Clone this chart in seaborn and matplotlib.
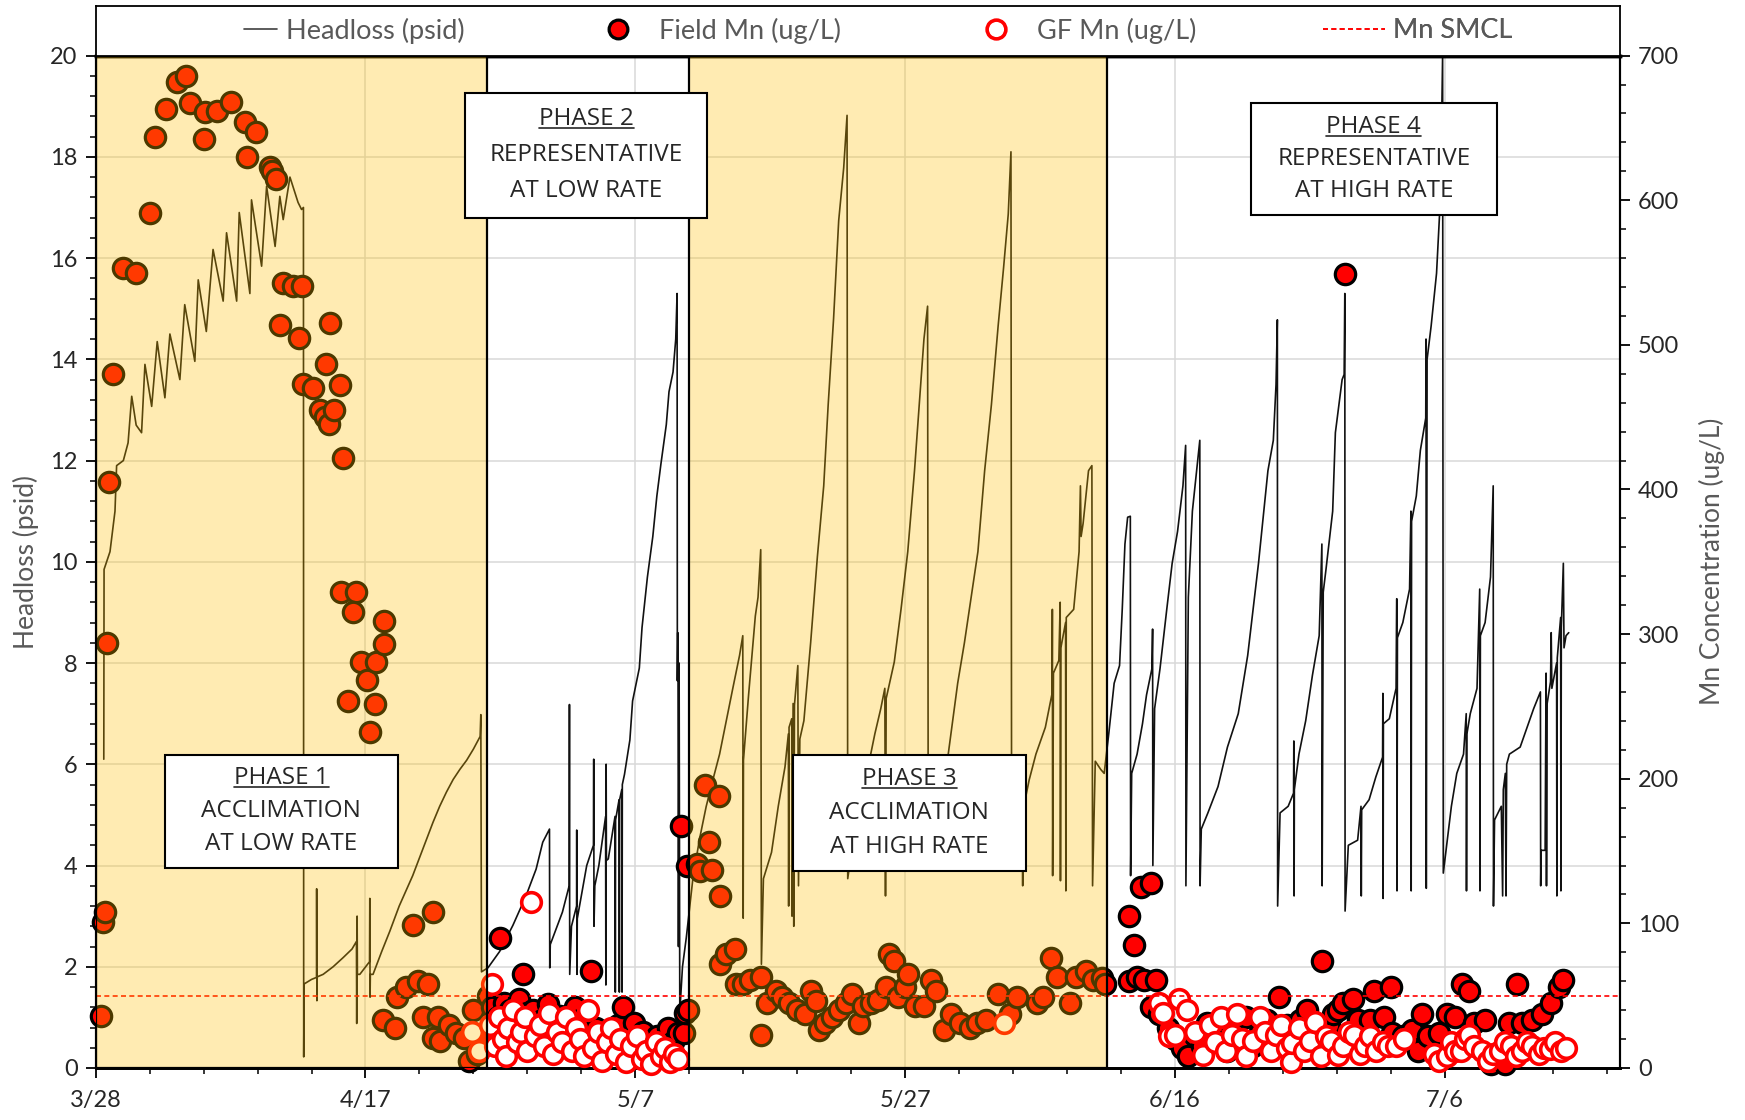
import numpy as np
import pandas as pd
import matplotlib
matplotlib.use("Agg")
import matplotlib.pyplot as plt
import seaborn as sns
from matplotlib.lines import Line2D
from matplotlib.patches import Rectangle
from matplotlib.ticker import MultipleLocator

# ---------------- data ----------------
# x = days since 3/28
tick_days = [0, 20, 40, 60, 80, 100]
tick_labels = ["3/28", "4/17", "5/7", "5/27", "6/16", "7/6"]
x_max = 113

phase_bounds = [0, 29, 44, 75, 113]
shaded_phases = [0, 2]
phase_titles = ["PHASE 1", "PHASE 2", "PHASE 3", "PHASE 4"]
phase_line2 = ["ACCLIMATION", "REPRESENTATIVE", "ACCLIMATION", "REPRESENTATIVE"]
phase_line3 = ["AT LOW RATE", "AT LOW RATE", "AT HIGH RATE", "AT HIGH RATE"]

mn_smcl = 50

headloss_day = [
    0.6, 0.62, 1.06, 1.43, 1.55, 2.05, 2.4, 2.67, 3.0, 3.4, 3.65, 4.15, 4.56, 5.13, 5.5, 6.24, 6.6, 7.35,
    7.6, 8.2, 8.7, 9.45, 9.7, 10.45, 10.64, 11.43, 11.55, 12.3, 12.67, 13.3, 13.65, 13.9, 14.4, 15.0, 15.26,
    15.4, 15.42, 15.45, 16.0, 16.37, 16.38, 16.4, 16.42, 16.86, 17.6, 18.34, 19.0, 19.33, 19.35, 19.38, 19.4,
    19.58, 20.3, 20.32, 20.34, 20.36, 20.56, 21.2, 21.8, 22.5, 23.0, 23.5, 24.0, 24.5, 25.0, 25.5, 26.0, 26.5,
    27.0, 27.5, 28.0, 28.5, 28.55, 28.6,
    29.08, 29.94, 30.93, 31.9, 32.65, 33.14, 33.64, 33.66, 33.7, 34.6, 35.1, 35.12, 35.14, 35.27, 35.65,
    35.66, 35.68, 35.7, 36.4, 36.9, 36.92, 36.94, 37.0, 37.3, 37.8, 37.82, 37.84, 37.86, 38.0, 38.5, 38.52,
    38.54, 38.8, 38.82, 38.84, 39.0, 39.02, 39.04, 39.2, 39.6, 39.8, 40.3, 40.5, 40.9, 41.3, 41.6, 41.9, 42.3,
    42.5, 42.8, 43.0, 43.1, 43.12, 43.15, 43.17, 43.2, 43.25, 43.3, 43.5,
    43.78, 44.27, 44.76, 45.26, 45.75, 46.25, 46.74, 47.23, 47.73, 47.97, 48.0, 48.02, 48.4, 48.9, 49.1, 49.3,
    49.35, 49.5, 50.1, 50.6, 51.1, 51.35, 51.37, 51.4, 51.6, 51.62, 51.7, 51.75, 51.8, 52.05, 52.1, 52.2, 52.5,
    53.0, 53.5, 53.97, 54.3, 54.7, 55.08, 55.45, 55.7, 55.75, 56.2, 56.8, 57.3, 57.76, 58.2, 58.5, 58.55, 58.6,
    59.2, 59.7, 60.2, 60.7, 61.05, 61.4, 61.67, 61.72, 62.3, 62.9, 63.4, 63.9, 64.4, 64.9, 65.4, 65.9, 66.4,
    66.9, 67.3, 67.65, 67.85, 67.9, 68.3, 68.7, 68.72, 68.75, 69.2, 69.7, 70.4, 70.9, 70.92, 70.94, 71.0, 71.4,
    71.5, 71.52, 71.55, 71.9, 71.92, 71.95, 72.5, 72.9, 73.0, 73.05, 73.2, 73.6, 73.85, 73.9, 74.1, 74.5,
    74.76, 75.1, 75.5, 75.9, 76.1, 76.3, 76.5, 76.7, 76.72, 76.8, 77.2, 77.6, 77.9, 78.3, 78.35, 78.37, 78.5,
    78.9, 79.4, 79.8, 80.2, 80.6, 80.8, 80.82, 81.0, 81.3, 81.7, 81.85, 81.87, 81.96, 82.45, 83.2, 83.9, 84.7,
    85.4, 86.2, 86.9, 87.3, 87.5, 87.6, 87.62, 87.8, 88.4, 88.8, 88.82, 88.84, 88.86, 89.2, 89.7, 90.2, 90.7,
    90.9, 90.92, 91.0, 91.2, 91.7, 91.9, 92.4, 92.55, 92.6, 92.62, 92.86, 93.55, 93.8, 93.82, 93.85, 94.4,
    94.9, 95.4, 95.42, 95.44, 95.46, 95.9, 96.4, 96.45, 96.47, 96.5, 96.9, 97.4, 97.5, 97.52, 97.55, 97.9,
    98.2, 98.6, 98.62, 98.64, 98.7, 99.0, 99.4, 99.7, 99.85, 99.9, 100.5, 100.9, 101.4, 101.6, 101.62, 101.65,
    101.9, 102.4, 102.6, 102.62, 102.65, 103.0, 103.4, 103.6, 103.62, 103.7, 104.2, 104.3, 104.35, 104.5,
    104.55, 104.6, 104.8, 105.6, 106.1, 106.6, 107.1, 107.12, 107.15, 107.45, 107.5, 107.52, 107.55, 107.6,
    107.85, 107.9, 107.95, 108.3, 108.32, 108.35, 108.6, 108.62, 108.65, 108.8, 108.85, 109.0, 109.2,
]
headloss_psid = [
    6.1, 9.85, 10.2, 11.0, 11.9, 12.0, 12.35, 13.27, 12.7, 12.55, 13.9, 13.07, 14.35, 13.24, 14.5, 13.6, 15.08, 13.96,
    15.57, 14.55, 16.17, 15.15, 16.5, 15.15, 16.9, 15.3, 17.15, 15.84, 17.42, 16.23, 17.22, 16.76, 17.6, 17.1, 16.96,
    17.0, 0.22, 1.66, 1.75, 1.79, 3.54, 1.33, 1.8, 1.85, 2.0, 2.18, 2.35, 2.5, 0.88, 3.0, 1.85,
    1.85, 2.1, 3.35, 1.4, 1.85, 1.85, 2.3, 2.7, 3.2, 3.5, 3.8, 4.15, 4.5, 4.85, 5.17, 5.45, 5.7,
    5.9, 6.08, 6.3, 6.55, 6.98, 1.9,
    1.98, 2.3, 2.82, 3.4, 3.93, 4.46, 4.72, 1.98, 2.44, 3.08, 3.6, 7.18, 1.85, 2.8, 3.2,
    4.7, 1.85, 2.95, 4.0, 4.4, 6.1, 2.8, 3.6, 4.0, 4.97, 1.64, 6.0, 4.1, 4.13, 4.97, 1.5,
    4.9, 5.3, 1.5, 5.3, 5.5, 1.5, 5.6, 5.8, 6.48, 7.25, 7.9, 8.7, 9.7, 10.5, 11.3, 11.93, 12.71,
    13.36, 13.75, 14.4, 15.3, 7.65, 8.6, 7.8, 2.4, 8.0, 1.1, 2.0,
    2.57, 3.74, 4.52, 5.17, 5.69, 6.2, 6.85, 7.5, 8.15, 8.54, 2.96, 6.08, 7.37, 8.93, 9.3, 10.24,
    2.05, 3.74, 4.26, 5.17, 5.95, 6.6, 3.2, 6.73, 6.9, 3.0, 7.2, 2.8, 7.17, 7.95, 3.6, 6.5, 6.86,
    8.4, 10.1, 11.5, 13.1, 14.8, 16.74, 17.78, 18.82, 3.74, 4.6, 5.4, 6.0, 6.6, 7.1, 7.5, 3.4, 7.3,
    8.02, 9.06, 10.2, 11.8, 13.1, 14.4, 15.05, 3.9, 4.6, 5.6, 6.6, 7.6, 8.4, 9.3, 10.2, 11.8, 13.1,
    14.66, 15.8, 16.87, 18.1, 4.0, 4.4, 5.0, 3.6, 5.1, 5.69, 6.2, 6.73, 7.4, 9.06, 3.8, 7.8, 8.05,
    9.2, 3.7, 8.3, 8.8, 3.5, 8.9, 9.06, 10.2, 11.5, 10.5, 10.76, 11.8, 11.9, 3.6, 6.06, 5.9,
    5.82, 6.6, 7.6, 7.95, 9.06, 10.35, 10.88, 10.9, 3.8, 5.82, 6.2, 6.8, 7.37, 7.89, 8.67, 4.0, 7.1,
    7.89, 9.06, 9.97, 10.6, 11.5, 12.3, 3.6, 9.3, 11.0, 12.03, 12.4, 3.6, 4.72, 5.04, 5.56, 6.34, 7.0,
    8.15, 9.97, 11.8, 12.4, 13.5, 14.78, 3.2, 5.04, 5.17, 5.43, 6.46, 3.4, 5.5, 6.2, 6.86, 7.76, 8.54,
    10.35, 3.6, 9.4, 9.84, 11.0, 12.55, 13.6, 13.7, 15.3, 3.1, 4.4, 4.5, 5.17, 3.4, 5.1, 5.3,
    5.75, 6.14, 7.4, 3.35, 6.8, 6.9, 7.5, 9.27, 3.5, 8.5, 8.8, 9.46, 11.0, 3.5, 10.8, 11.3,
    12.2, 12.84, 14.4, 3.55, 14.0, 14.66, 15.7, 17.26, 20.0, 3.85, 5.17, 5.82, 6.2, 7.0, 3.5, 6.6,
    7.0, 7.5, 9.46, 3.5, 8.54, 8.8, 9.7, 11.5, 3.2, 4.9, 5.17, 3.4, 5.5, 5.82,
    3.4, 6.0, 6.2, 6.34, 6.72, 7.1, 7.43, 3.6, 4.3, 4.3, 6.6, 7.8, 3.6, 7.2,
    7.63, 8.6, 7.5, 8.0, 3.4, 8.1, 8.9, 3.5, 8.7, 9.97, 8.3, 8.54, 8.6,
]

field_day = [
    0.4, 0.55, 0.68, 0.83, 1.0, 1.3, 2.0, 3.0, 4.0, 4.4, 5.2, 6.0, 6.7, 7.0, 8.0, 8.1, 9.0, 10.0, 11.1, 11.2,
    11.85, 12.9, 13.1, 13.4, 13.65, 13.9, 14.6, 15.3, 15.1, 15.4, 16.1, 16.6, 17.0, 17.3, 17.1, 17.4, 17.7,
    18.1, 18.3, 18.2, 19.3, 19.1, 18.7, 19.7, 20.1, 20.8, 21.4, 21.4, 20.7, 20.3,
    21.3, 22.2, 22.3, 23.0, 23.5, 23.9, 24.3, 24.6, 25.0, 25.0, 25.4, 25.5, 26.2, 26.7, 27.3, 27.7, 27.98,
    28.3, 28.7,
    29.1, 29.4, 29.8, 30.0, 30.3, 30.7, 31.1, 31.4, 31.7, 32.0, 32.4, 32.8, 33.1, 33.5, 33.9, 34.4, 34.8, 35.1,
    35.5, 35.9, 36.3, 36.7, 37.1, 37.4, 37.8, 38.3, 38.7, 39.1, 39.5, 39.9, 40.3, 40.6, 40.9, 41.3, 41.6, 42.0,
    42.4, 42.8, 43.2, 43.4, 43.6, 43.7,
    43.8, 43.9, 44.6, 44.8, 45.2, 45.5, 45.7, 46.2, 46.3, 46.3, 46.7, 47.4, 47.5, 48.0, 48.5, 49.3, 49.3, 49.8,
    50.4, 50.9, 51.4, 52.0, 52.6, 53.0, 53.4, 53.6, 54.1, 54.6, 55.1, 55.6, 56.1, 56.6, 56.9, 57.5, 58.0, 58.6,
    58.8, 59.2, 59.5, 60.0, 60.2, 60.7, 61.4, 61.9, 62.3, 62.9, 63.4, 64.1, 64.8, 65.3, 66.0, 66.9, 67.8, 68.3,
    69.8, 70.2, 70.8, 71.3, 72.2, 72.7, 73.4, 73.9, 74.6,
    74.8, 76.6, 77.0, 77.5, 78.2, 76.6, 77.2, 77.7, 78.6, 78.2, 78.8, 79.5, 80.0, 80.5, 81.0, 81.5, 82.0, 82.4,
    82.9, 83.4, 83.9, 84.3, 84.8, 85.3, 85.8, 86.3, 86.8, 87.3, 87.7, 88.3, 88.8, 89.3, 89.8, 90.3, 90.8, 90.9,
    91.4, 91.7, 92.1, 92.5, 92.6, 93.2, 93.6, 94.5, 94.76, 95.5, 96.0, 96.1, 96.9, 97.6, 98.0, 98.3, 98.8, 99.6,
    100.2, 100.8, 101.3, 101.8, 102.2, 103.0, 103.4, 104.5, 104.8, 105.4, 105.75, 106.5, 107.2, 107.85, 108.5,
    108.8,
]
field_mn = [
    36, 101, 108, 294, 405, 480, 553, 550, 591, 644, 663, 682, 686, 667, 642, 661, 662, 668, 654, 630,
    647, 623, 620, 615, 514, 543, 541, 541, 505, 473, 470, 455, 450, 445, 487, 515, 455,
    472, 422, 329, 329, 315, 254, 281, 268, 281, 309, 293, 252, 232,
    33, 28, 49, 56, 99, 60, 35, 58, 108, 21, 35, 19, 30, 24, 21, 5, 40,
    10, 21,
    50, 42, 35, 90, 45, 40, 30, 48, 65, 38, 40, 28, 33, 44, 25, 36, 30, 25,
    42, 33, 20, 67, 28, 19, 14, 24, 30, 42, 20, 31, 12, 25, 16, 10, 22, 14,
    28, 18, 24, 167, 24, 38,
    140, 40, 141, 136, 196, 156, 137, 188, 119, 72, 79, 82, 58, 58, 61, 63, 23, 45,
    53, 49, 45, 40, 37, 53, 46, 26, 31, 35, 40, 45, 51, 31, 43, 45, 47, 56,
    79, 74, 49, 56, 65, 43, 43, 61, 53, 26, 37, 31, 28, 31, 33, 51, 37, 49,
    45, 49, 76, 63, 45, 63, 67, 61, 62,
    58, 105, 85, 125, 128, 60, 63, 61, 61, 42, 37, 28, 20, 14, 8, 22, 15, 31,
    25, 18, 12, 28, 20, 35, 15, 25, 33, 20, 49, 30, 22, 33, 40, 28, 18, 74,
    30, 37, 40, 45, 549, 48, 33, 33, 53, 35, 56, 24, 22, 26, 12, 37, 22, 24,
    37, 35, 58, 53, 31, 33, 3, 3, 31, 58, 31, 33, 37, 45, 56,
    61,
]

gf_day = [
    27.9, 28.4,
    29.2, 29.4, 29.6, 29.9, 30.2, 30.4, 30.6, 30.9, 31.2, 31.5, 31.8, 32.0, 32.3, 32.6, 32.9, 33.2, 33.6, 33.9,
    34.2, 34.6, 34.9, 35.3, 35.6, 35.9, 36.2, 36.5, 36.9, 37.2, 37.5, 37.9, 38.2, 38.6, 38.9, 39.3, 39.7, 40.1,
    40.5, 40.8, 41.2, 41.5, 41.9, 42.2, 42.6, 42.9, 43.2,
    67.3,
    78.8, 79.1, 79.6, 80.0, 80.3, 80.9, 81.5, 82.1, 82.6, 83.0, 83.4, 83.8, 84.2, 84.6, 85.0, 85.3, 85.8, 86.3,
    86.7, 87.1, 87.5, 87.9, 88.3, 88.6, 88.7, 89.2, 89.6, 90.0, 90.4, 90.8, 91.2, 91.6, 92.1, 92.5, 92.9, 93.3,
    93.7, 94.1, 94.5, 94.9, 95.4, 95.8, 96.4, 97.0, 99.2, 99.6, 100.2, 100.5, 100.8, 101.2, 101.5, 101.8, 102.2,
    102.8, 103.2, 103.6, 104.1, 104.5, 104.9, 105.3, 105.7, 106.1, 106.5, 107.0, 107.4, 107.8, 108.2, 108.6,
    109.0,
]
gf_mn = [
    25, 12,
    30, 58, 15, 35, 20, 8, 28, 40, 18, 25, 35, 12, 115, 22, 30, 15, 38, 10,
    25, 18, 35, 12, 28, 20, 8, 40, 14, 25, 5, 18, 28, 10, 20, 4, 15, 22,
    6, 12, 3, 18, 8, 14, 4, 10, 6,
    31,
    45, 38, 22, 23, 48, 40, 25, 9, 30, 18, 35, 12, 23, 37, 20, 8, 19, 35,
    25, 12, 23, 30, 14, 4, 17, 28, 12, 19, 32, 8, 22, 19, 9, 15, 25, 23,
    10, 15, 22, 12, 18, 15, 15, 20, 10, 5, 8, 18, 12, 12, 20, 23, 15,
    12, 5, 10, 12, 18, 15, 8, 12, 18, 15, 10, 14, 13, 18, 12,
    14,
]

# ---------------- figure ----------------
sns.set_theme(style="white")
plt.rcParams["font.family"] = ["Lato", "DejaVu Sans"]

W, H = 1745, 1120
fig = plt.figure(figsize=(W / 100, H / 100), dpi=100)
L, R = 95.7 / W, 1620 / W
B, T = 1 - 1068 / H, 1 - 55.6 / H
ax = fig.add_axes([L, B, R - L, T - B])
ax2 = ax.twinx()

gray_txt = "#595959"
tick_col = "#262626"

hl = pd.DataFrame({"day": headloss_day, "psid": headloss_psid})
sns.lineplot(data=hl, x="day", y="psid", sort=False, estimator=None, color="#111111",
             linewidth=1.2, ax=ax)

fdf = pd.DataFrame({"day": field_day, "mn": field_mn})
gdf = pd.DataFrame({"day": gf_day, "mn": gf_mn})
sns.scatterplot(data=fdf, x="day", y="mn", s=215, color="#FF0000", edgecolor="black",
                linewidth=2.3, ax=ax2, zorder=3, clip_on=False)
sns.scatterplot(data=gdf, x="day", y="mn", s=200, color="white", edgecolor="#FF0000",
                linewidth=2.6, ax=ax2, zorder=4, clip_on=False)
ax2.axhline(mn_smcl, color="#FF0000", linestyle=(0, (3, 2)), linewidth=1.2, zorder=4.5)

# phase shading
for i in shaded_phases:
    ax2.axvspan(phase_bounds[i], phase_bounds[i + 1], ymin=0, ymax=1,
                facecolor=(1.0, 0.753, 0.0, 0.30), edgecolor="black", linewidth=1.6, zorder=5)

# axes limits / ticks
ax.set_xlim(0, x_max)
ax.set_ylim(0, 20)
ax2.set_ylim(0, 700)
ax.set_xticks(tick_days)
ax.set_xticklabels(tick_labels)
ax.xaxis.set_minor_locator(MultipleLocator(4))
ax.set_yticks(np.arange(0, 21, 2))
ax.yaxis.set_minor_locator(MultipleLocator(0.4))
ax2.set_yticks(np.arange(0, 701, 100))
ax2.yaxis.set_minor_locator(MultipleLocator(20))

ax.grid(True, which="major", color="#D9D9D9", linewidth=1.1)
ax.set_axisbelow(True)
ax2.grid(False)

ax.tick_params(axis="both", which="major", direction="out", length=7, width=1.3, color="black",
               labelsize=17, labelcolor=tick_col, bottom=True, left=True, pad=6)
ax.tick_params(axis="both", which="minor", direction="out", length=4, width=1.1, color="black",
               bottom=True, left=True)
ax.tick_params(axis="x", pad=9)
ax2.tick_params(axis="y", which="major", direction="out", length=7, width=1.3, color="black",
                labelsize=17, labelcolor=tick_col, right=True, pad=6)
ax2.tick_params(axis="y", which="minor", direction="out", length=4, width=1.1, color="black", right=True)

for a in (ax, ax2):
    for s in a.spines.values():
        s.set_color("black")
        s.set_linewidth(1.5)
    a.spines["top"].set_linewidth(2.5)
    a.spines["bottom"].set_linewidth(2.0)

ax.set_xlabel("")
ax.set_ylabel("Headloss (psid)", fontsize=19, color=gray_txt, labelpad=8)
ax2.set_ylabel("Mn Concentration (ug/L)", fontsize=19, color=gray_txt, labelpad=14)

# phase text boxes (axes fractions)
box_pos = [
    (0.0454, 0.1975, 0.1526, 0.112),
    (0.2425, 0.840, 0.1585, 0.123),
    (0.4575, 0.1945, 0.1525, 0.115),
    (0.758, 0.843, 0.161, 0.110),
]
box_font = 17.5
title_texts = []
for i, (bx, by, bw, bh) in enumerate(box_pos):
    ax2.add_patch(Rectangle((bx, by), bw, bh, transform=ax2.transAxes, facecolor="white",
                            edgecolor="black", linewidth=1.5, zorder=10, clip_on=False))
    cx = bx + bw / 2
    t = ax2.text(cx, by + bh * 0.79, phase_titles[i], transform=ax2.transAxes, ha="center",
                 va="center", fontsize=box_font, color="#262626", zorder=11, family="Open Sans")
    title_texts.append(t)
    ax2.text(cx, by + bh * 0.50, phase_line2[i], transform=ax2.transAxes, ha="center",
             va="center", fontsize=box_font, color="#262626", zorder=11, family="Open Sans")
    ax2.text(cx, by + bh * 0.21, phase_line3[i], transform=ax2.transAxes, ha="center",
             va="center", fontsize=box_font, color="#262626", zorder=11, family="Open Sans")

# legend box above the plot
ax_leg = fig.add_axes([L, T, R - L, 1 - 5.6 / H - T])
ax_leg.set_xticks([])
ax_leg.set_yticks([])
ax_leg.set_facecolor("white")
for s in ax_leg.spines.values():
    s.set_color("black")
    s.set_linewidth(1.3)
handles = [
    Line2D([], [], color="#404040", linewidth=1.2),
    Line2D([], [], linestyle="none", marker="o", markersize=13.5, markerfacecolor="#FF0000",
           markeredgecolor="black", markeredgewidth=2.3),
    Line2D([], [], linestyle="none", marker="o", markersize=13.5, markerfacecolor="white",
           markeredgecolor="#FF0000", markeredgewidth=2.6),
    Line2D([], [], color="#FF0000", linewidth=1.2, linestyle=(0, (3, 2))),
]
labels = ["Headloss (psid)", "Field Mn (ug/L)", "GF Mn (ug/L)", "Mn SMCL"]
leg_x = [0.097, 0.334, 0.582, 0.805]
leg_hlen = [1.25, 1.0, 1.0, 2.3]
leg_pad = [0.3, 1.0, 1.0, 0.3]
for h, lab, lx, hlen, pad in zip(handles, labels, leg_x, leg_hlen, leg_pad):
    lg = ax_leg.legend([h], [lab], loc="center left", bbox_to_anchor=(lx, 0.5), frameon=False,
                       fontsize=19.5, labelcolor=gray_txt, handlelength=hlen, handletextpad=pad,
                       borderpad=0, borderaxespad=0)
    ax_leg.add_artist(lg)

# underline titles
fig.canvas.draw()
rend = fig.canvas.get_renderer()
inv = ax2.transAxes.inverted()
for t in title_texts:
    bb = t.get_window_extent(renderer=rend)
    (x0, y0), (x1, y1) = inv.transform([(bb.x0, bb.y0), (bb.x1, bb.y1)])
    ax2.add_line(Line2D([x0, x1], [y0 + 0.003, y0 + 0.003], transform=ax2.transAxes,
                        color="#262626", linewidth=1.2, zorder=12))

fig.savefig("out.png", dpi=100)
